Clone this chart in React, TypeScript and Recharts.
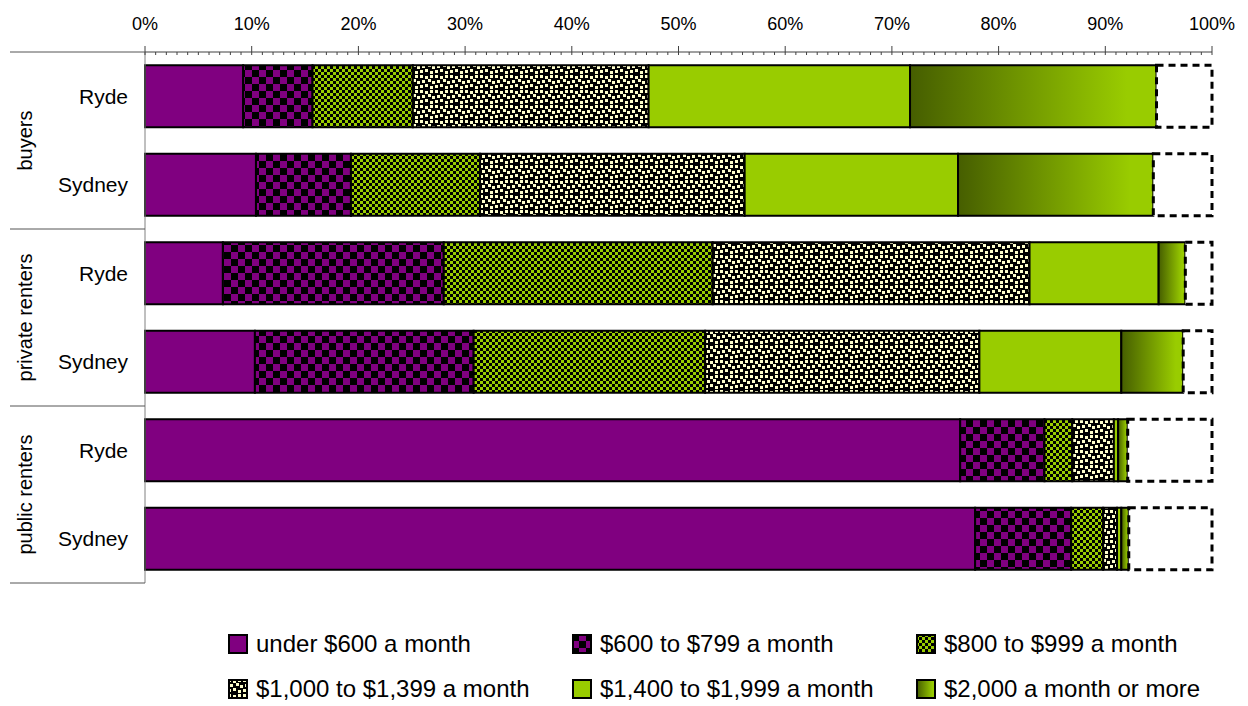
import { BarChart, Bar, XAxis, YAxis, Legend } from 'recharts';

// rows, top to bottom
const cities = ['Ryde', 'Sydney', 'Ryde', 'Sydney', 'Ryde', 'Sydney'];
const rowGroups = ['buyers', 'buyers', 'private renters', 'private renters', 'public renters', 'public renters'];
const groups = ['buyers', 'private renters', 'public renters'];

// share of households (%) by monthly housing cost
const under600 = [9.2, 10.4, 7.3, 10.3, 76.4, 77.8];
const from600 = [6.5, 8.9, 20.7, 20.5, 7.9, 9.0];
const from800 = [9.4, 12.1, 25.2, 21.7, 2.6, 3.0];
const from1000 = [22.1, 24.8, 29.7, 25.7, 3.9, 1.3];
const from1400 = [24.5, 20.0, 12.1, 13.3, 0.4, 0.4];
const from2000 = [23.1, 18.3, 2.5, 5.8, 0.9, 0.7];
const notStated = [5.2, 5.5, 2.5, 2.7, 7.9, 7.8];

const pctTicks = Array.from({ length: 101 }, (_, i) => i);

const series = [
  { key: 'under600', name: 'under $600 a month', fill: 'url(#solidPurple)' },
  { key: 'from600', name: '$600 to $799 a month', fill: 'url(#bigChecker)' },
  { key: 'from800', name: '$800 to $999 a month', fill: 'url(#smallChecker)' },
  { key: 'from1000', name: '$1,000 to $1,399 a month', fill: 'url(#confetti)' },
  { key: 'from1400', name: '$1,400 to $1,999 a month', fill: '#99cc00' },
  { key: 'from2000', name: '$2,000 a month or more', fill: 'url(#olive)' },
];

const data = cities.map((city, i) => ({
  city,
  group: rowGroups[i],
  under600: under600[i],
  from600: from600[i],
  from800: from800[i],
  from1000: from1000[i],
  from1400: from1400[i],
  from2000: from2000[i],
  notStated: notStated[i],
}));

const FONT = '"Liberation Sans", Arial, sans-serif';
const W = 1248;
const H = 706;
const margin = { top: 22, right: 36, bottom: 123, left: 10 };
const X_AXIS_H = 30;
const PLOT_LEFT = 145;
const GROUP_BAND = (H - margin.top - margin.bottom - X_AXIS_H) / groups.length;

// confetti dots inside one 15px tile
const confettiDots = [[0, 0], [5, 1], [10, 0], [2, 5], [8, 4], [12, 6], [5, 9], [0, 10], [10, 11]];

function PctTick(props: any) {
  const { x, y, payload } = props;
  const v = payload.value;
  const major = v % 10 === 0;
  return (
    <g>
      <line x1={x} x2={x} y1={major ? y - 6 : y} y2={y + 3} stroke="#404040" />
      {major && (
        <text x={x} y={y - 22.5} textAnchor="middle" fontSize={18} fill="#000" fontFamily={FONT}>
          {v}%
        </text>
      )}
    </g>
  );
}

function GroupTick(props: any) {
  const { y, payload, index } = props;
  const tx = 32;
  const top = y - GROUP_BAND / 2;
  const bottom = y + GROUP_BAND / 2;
  return (
    <g>
      {index === 0 && <line x1={margin.left} x2={PLOT_LEFT} y1={top} y2={top} stroke="#555" />}
      <line x1={margin.left} x2={PLOT_LEFT} y1={bottom} y2={bottom} stroke="#555" />
      <text x={tx} y={y} transform={`rotate(-90 ${tx} ${y})`} textAnchor="middle" fontSize={20} fill="#000" fontFamily={FONT}>
        {payload.value}
      </text>
    </g>
  );
}

function LegendGrid() {
  return (
    <div
      style={{
        display: 'grid',
        gridTemplateColumns: '344px 344px 344px',
        gridAutoRows: '45px',
        paddingLeft: 228,
        fontFamily: FONT,
        fontSize: 24,
        color: '#000',
      }}
    >
      {series.map((s) => (
        <div key={s.key} style={{ display: 'flex', alignItems: 'center', whiteSpace: 'nowrap' }}>
          <svg width={20} height={20} style={{ marginRight: 8, flex: 'none' }}>
            <rect x={1} y={1} width={18} height={18} fill={s.fill} stroke="#000" strokeWidth={2} />
          </svg>
          <span>{s.name}</span>
        </div>
      ))}
    </div>
  );
}

export default function App() {
  return (
    <div style={{ width: W, height: H }}>
      <style>{'body{margin:0}'}</style>
      <BarChart
        width={W}
        height={H}
        data={data}
        layout="vertical"
        margin={margin}
        barCategoryGap="15%"
      >
        <defs>
          <pattern id="solidPurple" width={4} height={4} patternUnits="userSpaceOnUse">
            <rect width={4} height={4} fill="#800080" />
          </pattern>
          <pattern id="bigChecker" width={14} height={14} patternUnits="userSpaceOnUse">
            <rect width={14} height={14} fill="#800080" />
            <rect width={7} height={7} fill="#000" />
            <rect x={7} y={7} width={7} height={7} fill="#000" />
          </pattern>
          <pattern id="smallChecker" width={6} height={6} patternUnits="userSpaceOnUse">
            <rect width={6} height={6} fill="#99cc00" />
            <rect width={3} height={3} fill="#000" />
            <rect x={3} y={3} width={3} height={3} fill="#000" />
          </pattern>
          <pattern id="confetti" width={15} height={15} patternUnits="userSpaceOnUse">
            <rect width={15} height={15} fill="#000" />
            {confettiDots.map(([dx, dy]) => (
              <rect key={`${dx}-${dy}`} x={dx} y={dy} width={3} height={3} fill="#ffffcc" />
            ))}
          </pattern>
          <linearGradient id="olive" x1="0" y1="0" x2="1" y2="0">
            <stop offset="0" stopColor="#465e00" />
            <stop offset="0.88" stopColor="#99cc00" />
            <stop offset="1" stopColor="#99cc00" />
          </linearGradient>
        </defs>
        <XAxis
          type="number"
          orientation="top"
          domain={[0, 100]}
          ticks={pctTicks}
          interval={0}
          height={X_AXIS_H}
          tickSize={0}
          tickMargin={0}
          tickLine={false}
          axisLine={{ stroke: '#404040' }}
          tick={<PctTick />}
        />
        <YAxis
          type="category"
          dataKey="city"
          width={90}
          tickLine={false}
          tickSize={0}
          tickMargin={17}
          axisLine={{ stroke: '#808080' }}
          tick={{ fontSize: 21, fill: '#000', fontFamily: FONT }}
        />
        <YAxis
          yAxisId="group"
          type="category"
          dataKey="group"
          allowDuplicatedCategory={false}
          interval={0}
          width={45}
          axisLine={false}
          tickLine={false}
          tick={<GroupTick />}
        />
        {series.map((s) => (
          <Bar
            key={s.key}
            dataKey={s.key}
            name={s.name}
            stackId="a"
            fill={s.fill}
            stroke="#000"
            strokeWidth={2}
            isAnimationActive={false}
          />
        ))}
        <Bar
          dataKey="notStated"
          stackId="a"
          fill="#fff"
          stroke="#000"
          strokeWidth={3}
          strokeDasharray="7 5"
          isAnimationActive={false}
          legendType="none"
        />
        <Legend
          layout="horizontal"
          align="center"
          verticalAlign="middle"
          wrapperStyle={{ left: 0, top: 621, width: W }}
          content={() => <LegendGrid />}
        />
      </BarChart>
    </div>
  );
}
